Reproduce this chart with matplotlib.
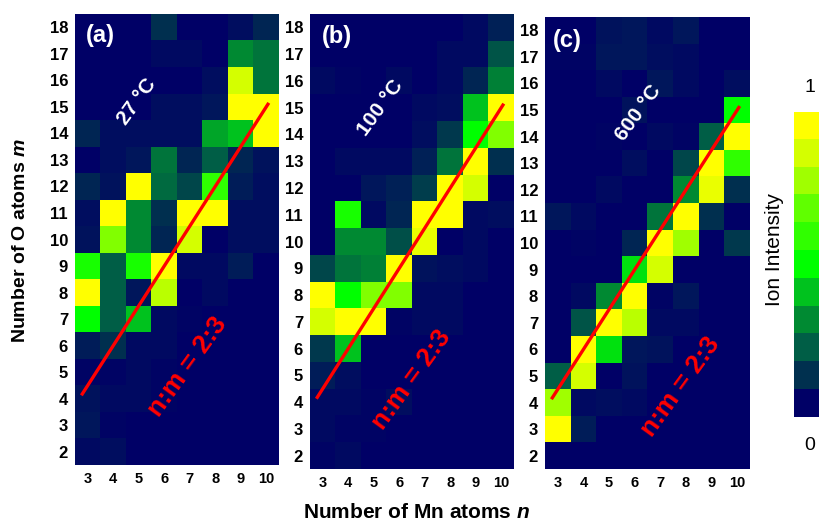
import numpy as np
import matplotlib
matplotlib.use("Agg")
import matplotlib.pyplot as plt
from matplotlib.colors import LinearSegmentedColormap, ListedColormap

# ---- data ----
n_values = [3, 4, 5, 6, 7, 8, 9, 10]
m_values = list(range(18, 1, -1))          # rows top -> bottom
panel_labels = ["(a)", "(b)", "(c)"]
temperatures = ["27 °C", "100 °C", "600 °C"]

# intensity levels 0..10 (rows m=18..2, cols n=3..10)
intensity_a = [
    [0, 0, 0, 1, 0, 0, 0.3, 0.8],
    [0, 0, 0, 0.2, 0.2, 0, 3, 2.5],
    [0, 0, 0, 0, 0, 0.3, 9, 2.5],
    [0, 0, 0, 0.3, 0.3, 0.5, 10, 10],
    [0.8, 0.3, 0.3, 0.3, 0.3, 3.5, 4, 10],
    [0, 0.3, 0.5, 2.5, 0.8, 2, 0.8, 0.4],
    [0.8, 0.4, 10, 2.3, 1.5, 6, 0.6, 0.3],
    [0.3, 10, 3, 1, 10, 10, 0.3, 0.3],
    [0.4, 7.5, 3, 0.8, 9, 0, 0.3, 0.3],
    [5.5, 2, 5.5, 10, 0.2, 0.2, 0.6, 0],
    [10, 2, 0.5, 8.5, 0, 0.2, 0, 0],
    [5, 2, 4, 0.2, 0.1, 0, 0, 0],
    [0.6, 1, 0.2, 0.2, 0, 0, 0, 0],
    [0.1, 0.1, 0.2, 0.1, 0, 0, 0, 0],
    [0.4, 0.2, 0.2, 0.1, 0, 0, 0, 0],
    [0.5, 0.1, 0, 0, 0, 0, 0, 0],
    [0.2, 0.3, 0, 0, 0, 0, 0, 0],
]
intensity_b = [
    [0, 0, 0, 0, 0, 0, 0.2, 0.7],
    [0, 0, 0, 0, 0, 0.2, 0.2, 1.8],
    [0.2, 0.1, 0, 0.2, 0, 0.2, 0.8, 2.8],
    [0, 0, 0, 0, 0.2, 0.3, 4, 10],
    [0, 0, 0, 0, 0.3, 1.2, 5, 7.5],
    [0, 0.2, 0.2, 0.2, 0.7, 2.5, 10, 1],
    [0, 0, 0.5, 0.7, 1.3, 10, 9, 0],
    [0, 5.5, 0.2, 0.8, 10, 10, 0.2, 0.3],
    [0, 3, 3, 1.7, 9.5, 0, 0.2, 0],
    [1.5, 2.5, 2.8, 10, 0.4, 0.3, 0.2, 0],
    [10, 5, 7.5, 7.5, 0.2, 0.2, 0, 0],
    [9, 10, 10, 0.1, 0.2, 0.2, 0, 0],
    [1.2, 4, 0, 0, 0, 0, 0, 0],
    [0.6, 0.3, 0, 0, 0, 0, 0, 0],
    [0.2, 0.2, 0.1, 0.3, 0, 0, 0, 0],
    [0.2, 0.1, 0.1, 0, 0, 0, 0, 0],
    [0.1, 0.2, 0, 0, 0, 0, 0, 0],
]
intensity_c = [
    [0, 0, 0.4, 0.5, 0.2, 0.5, 0, 0],
    [0.1, 0.1, 0.5, 0.5, 0.3, 0.2, 0, 0],
    [0, 0, 0.2, 0, 0.5, 0.2, 0, 0.3],
    [0, 0, 0, 0.4, 0, 0, 0, 5],
    [0, 0, 0.1, 0, 0.2, 0.1, 2, 10],
    [0, 0, 0, 0.3, 0, 1.5, 10, 6],
    [0, 0, 0.2, 0, 0, 3, 9.5, 1],
    [0.5, 0.2, 0, 0, 2.5, 10, 1, 0],
    [0, 0.1, 0, 0.8, 10, 8, 0, 1.2],
    [0, 0, 0, 4.5, 9, 0, 0, 0],
    [0, 0.2, 3, 10, 0.1, 0.5, 0, 0],
    [0, 1.8, 10, 8.5, 0.2, 0.2, 0, 0],
    [0, 10, 4.5, 0.5, 0.4, 0, 0, 0],
    [2, 9, 0, 0.4, 0, 0, 0, 0],
    [8, 0.2, 0.3, 0.2, 0, 0, 0, 0],
    [10, 0.6, 0, 0, 0, 0, 0, 0],
    [0, 0, 0, 0, 0, 0, 0, 0],
]
# n:m = 2:3 guide line (n range)
ratio_line_n = [2.75, 10.1]

# ---- style ----
level_colors = ["#000066", "#00304f", "#005e46", "#008a32", "#00c21e", "#00ff00",
                "#30ff00", "#60ff00", "#a0ff00", "#d4ff00", "#ffff00"]
cmap = LinearSegmentedColormap.from_list("ion", level_colors)
plt.rcParams['font.family'] = ['Liberation Sans', 'DejaVu Sans']
plt.rcParams['mathtext.fontset'] = 'custom'
plt.rcParams['mathtext.it'] = 'Liberation Sans:bold:italic'

fig = plt.figure(figsize=(8.2, 5.22), dpi=100)
W, H = 820, 522
boxes = [(75, 14, 279, 465), (310, 14, 514, 469), (545, 17, 750, 469)]
text_pos = [((3.48, 17.7), (4.92, 15.2), (6.9, 5.2)),
            ((3.55, 17.65), (5.25, 15.0), (6.5, 4.85)),
            ((3.38, 17.6), (6.14, 14.9), (7.8, 4.6))]
datas = [intensity_a, intensity_b, intensity_c]

for i, (data, box) in enumerate(zip(datas, boxes)):
    l, t, r, b = box
    ax = fig.add_axes([l / W, 1 - b / H, (r - l) / W, (b - t) / H])
    ax.imshow(np.array(data), cmap=cmap, vmin=0, vmax=10, origin='upper',
              extent=[n_values[0] - 0.5, n_values[-1] + 0.5,
                      m_values[-1] - 0.5, m_values[0] + 0.5],
              aspect='auto', interpolation='nearest')
    ln = np.array(ratio_line_n)
    ax.plot(ln, ln * 3 / 2, color='#ff0000', lw=2.4, solid_capstyle='butt')
    ax.set_xticks(n_values)
    ax.set_yticks(m_values)
    ax.tick_params(length=0, pad=5)
    for lab in ax.get_xticklabels():
        lab.set_fontweight('bold'); lab.set_fontsize(10.5)
    for lab in ax.get_yticklabels():
        lab.set_fontweight('bold'); lab.set_fontsize(12)
    for s in ax.spines.values():
        s.set_visible(False)
    (px, py), (tx, ty), (rx, ry) = text_pos[i]
    ax.text(px, py, panel_labels[i], color='white', fontsize=17, fontweight='bold',
            ha='center', va='center')
    ax.text(tx, ty, temperatures[i], color='white', fontsize=15, fontweight='bold',
            ha='center', va='center', rotation=54, rotation_mode='anchor')
    ax.text(rx, ry, 'n:m = 2:3', color='#ff0000', fontsize=19, fontweight='bold',
            ha='center', va='center', rotation=54, rotation_mode='anchor')
    ax.set_xlim(n_values[0] - 0.5, n_values[-1] + 0.5)
    ax.set_ylim(m_values[-1] - 0.5, m_values[0] + 0.5)

fig.text(21 / W, 1 - 241 / H, 'Number of O atoms $m$', rotation=90, fontsize=14,
         fontweight='bold', ha='center', va='center')
fig.text(417 / W, 1 - 512 / H, 'Number of Mn atoms $n$', fontsize=15,
         fontweight='bold', ha='center', va='center')

# colorbar
cax = fig.add_axes([794 / W, 1 - 417 / H, 26 / W, 305 / H])
cax.imshow(np.arange(len(level_colors))[::-1].reshape(-1, 1),
           cmap=ListedColormap(level_colors), aspect='auto',
           interpolation='nearest')
cax.axis('off')
fig.text(810 / W, 1 - 88 / H, '1', fontsize=14, ha='center', va='center')
fig.text(810 / W, 1 - 446 / H, '0', fontsize=14, ha='center', va='center')
fig.text(775 / W, 1 - 250 / H, 'Ion Intensity', fontsize=15, rotation=90,
         ha='center', va='center')

fig.savefig('out.png', dpi=100)
